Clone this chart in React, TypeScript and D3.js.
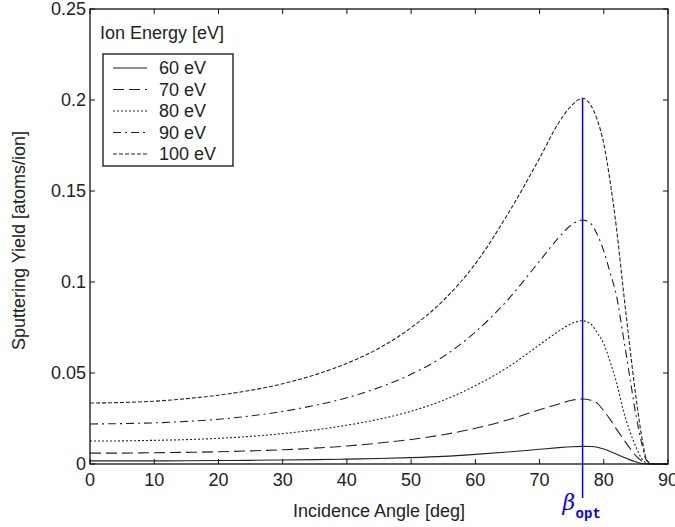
import React from "react";
import * as d3 from "d3";

// incidence angles (deg) at which the curves were read
const angles = [0, 5, 10, 15, 20, 25, 30, 35, 40, 45, 50, 55, 60, 65, 70, 73, 75, 76.7, 78, 79, 80, 81, 82, 83, 84, 85, 86, 86.5, 87, 88, 90];

// sputtering yield (atoms/ion) per ion energy
const yield60 = [0.0017, 0.0017, 0.0017, 0.0018, 0.0019, 0.0020, 0.0022, 0.0024, 0.0027, 0.0030, 0.0035, 0.0042, 0.0053, 0.0066, 0.0081, 0.0090, 0.0095, 0.0097, 0.0096, 0.0092, 0.0082, 0.0069, 0.0054, 0.0039, 0.0024, 0.0012, 0.0003, 0.0001, 0, 0, 0];
const yield70 = [0.0060, 0.0060, 0.0062, 0.0064, 0.0067, 0.0072, 0.0078, 0.0087, 0.0099, 0.0115, 0.0135, 0.0161, 0.0196, 0.0242, 0.0298, 0.0330, 0.0350, 0.0357, 0.0350, 0.0333, 0.0292, 0.0245, 0.0190, 0.0140, 0.0090, 0.0045, 0.0015, 0.0005, 0.0001, 0, 0];
const yield80 = [0.0126, 0.0127, 0.0130, 0.0134, 0.0141, 0.0152, 0.0167, 0.0187, 0.0213, 0.0246, 0.0290, 0.0350, 0.0430, 0.0530, 0.0655, 0.0730, 0.0772, 0.0787, 0.0768, 0.0720, 0.0660, 0.0560, 0.0445, 0.0300, 0.0185, 0.0095, 0.0025, 0.0008, 0.0002, 0, 0];
const yield90 = [0.0220, 0.0222, 0.0226, 0.0234, 0.0246, 0.0264, 0.0289, 0.0322, 0.0364, 0.0420, 0.0493, 0.0590, 0.0725, 0.0900, 0.1115, 0.1245, 0.1315, 0.1340, 0.1320, 0.1260, 0.1170, 0.1050, 0.0920, 0.0710, 0.0490, 0.0270, 0.0100, 0.0030, 0.0008, 0, 0];
const yield100 = [0.0335, 0.0338, 0.0345, 0.0359, 0.0378, 0.0405, 0.0441, 0.0490, 0.0553, 0.0636, 0.0749, 0.0898, 0.1100, 0.1370, 0.1680, 0.1876, 0.1970, 0.2010, 0.1970, 0.1890, 0.1760, 0.1550, 0.1290, 0.0970, 0.0660, 0.0370, 0.0130, 0.0040, 0.0010, 0, 0];

const energies = ["60 eV", "70 eV", "80 eV", "90 eV", "100 eV"];
const xTicks = [0, 10, 20, 30, 40, 50, 60, 70, 80, 90];
const yTicks = [0, 0.05, 0.1, 0.15, 0.2, 0.25];
const betaOpt = 76.7;

const W = 675;
const H = 527;
const margin = { left: 90, right: 7, top: 9, bottom: 63 };
const font = "'Liberation Sans', Arial, sans-serif";

const App = () => {
  const x = d3.scaleLinear().domain([0, 90]).range([margin.left, W - margin.right]);
  const y = d3.scaleLinear().domain([0, 0.25]).range([H - margin.bottom, margin.top]);

  const series = [yield60, yield70, yield80, yield90, yield100];
  const dashes = ["none", "11,5", "2,2", "8,4,2,4", "4,2"];

  const line = d3.line<number>()
    .x((_, i) => x(angles[i]))
    .y(d => y(d))
    .curve(d3.curveMonotoneX);

  const [x0, x1] = x.range();
  const [yb, yt] = y.range();
  const tick = 5;

  // legend position
  const lg = { x: 103, y: 54, w: 130, h: 112, row: 21.5 };

  return (
    <svg width={W} height={H} style={{ position: "absolute", left: 0, top: 0, background: "#fff" }}
      fontFamily={font}>
      <rect x={0} y={0} width={W} height={H} fill="#fff" />

      {/* curves */}
      {series.map((s, i) => (
        <path key={i} d={line(s) || ""} fill="none" stroke="#222" strokeWidth={1.1}
          strokeDasharray={dashes[i]} />
      ))}

      {/* beta_opt marker */}
      <line x1={x(betaOpt)} x2={x(betaOpt)} y1={y(d3.max(yield100) as number)} y2={498}
        stroke="#0000ff" strokeWidth={1.5} />
      <text x={x(betaOpt) - 20} y={510} fill="#0000ff" fontSize={22} fontStyle="italic"
        fontFamily="'DejaVu Serif', serif">β</text>
      <text x={x(betaOpt) - 7} y={518} fill="#0000ff" fontSize={14} fontWeight="bold"
        fontFamily="'Liberation Mono', 'DejaVu Sans Mono', monospace">opt</text>

      {/* frame */}
      <rect x={x0} y={yt} width={x1 - x0} height={yb - yt} fill="none" stroke="#111" strokeWidth={1.3} />

      {/* x ticks */}
      {xTicks.map(t => (
        <g key={"x" + t}>
          <line x1={x(t)} x2={x(t)} y1={yb} y2={yb - tick} stroke="#111" />
          <line x1={x(t)} x2={x(t)} y1={yt} y2={yt + tick} stroke="#111" />
          <text x={x(t)} y={yb + 22} textAnchor="middle" fontSize={18} fill="#222">{t}</text>
        </g>
      ))}

      {/* y ticks */}
      {yTicks.map(t => (
        <g key={"y" + t}>
          <line x1={x0} x2={x0 + tick} y1={y(t)} y2={y(t)} stroke="#111" />
          <line x1={x1} x2={x1 - tick} y1={y(t)} y2={y(t)} stroke="#111" />
          <text x={x0 - 4} y={y(t) + 6} textAnchor="end" fontSize={18} fill="#222">{t}</text>
        </g>
      ))}

      {/* axis labels */}
      <text x={(x0 + x1) / 2} y={517} textAnchor="middle" fontSize={18} fill="#222">Incidence Angle [deg]</text>
      <text transform={`translate(25,${(yb + yt) / 2 + 4}) rotate(-90)`} textAnchor="middle" fontSize={18}
        fill="#222">Sputtering Yield [atoms/ion]</text>

      {/* legend */}
      <text x={100} y={39} fontSize={18} fill="#222">Ion Energy [eV]</text>
      <rect x={lg.x} y={lg.y} width={lg.w} height={lg.h} fill="#fff" stroke="#111" strokeWidth={1.3} />
      {energies.map((e, i) => {
        const ry = lg.y + 14 + i * lg.row;
        return (
          <g key={e}>
            <line x1={lg.x + 10} x2={lg.x + 44} y1={ry} y2={ry} stroke="#222" strokeWidth={1.1}
              strokeDasharray={dashes[i]} />
            <text x={lg.x + 56} y={ry + 6} fontSize={18} fill="#222">{e}</text>
          </g>
        );
      })}
    </svg>
  );
};

export default App;
